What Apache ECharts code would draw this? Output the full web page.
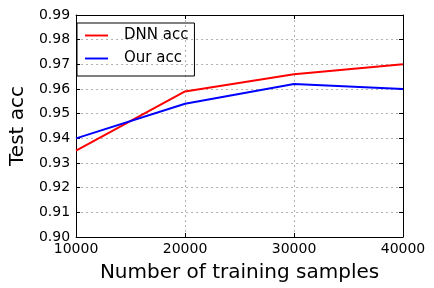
<!DOCTYPE html>
<html><head><meta charset="utf-8">
<script src="https://cdn.jsdelivr.net/npm/echarts@6/dist/echarts.min.js"></script>
<style>html,body{margin:0;padding:0;background:#fff}#c{width:434px;height:288px}</style>
</head><body><div id="c"></div>
<script>
const samples = [10000, 20000, 30000, 40000];
const dnnAcc = [0.935, 0.959, 0.966, 0.970];
const ourAcc = [0.940, 0.954, 0.962, 0.960];
const seriesNames = ['DNN acc', 'Our acc'];
const font = 'DejaVu Sans';
const chart = echarts.init(document.getElementById('c'), null, {renderer: 'canvas'});
const tickStyle = {show: true, inside: true, length: 4, lineStyle: {color: '#000', width: 1}};
chart.setOption({
  animation: false,
  backgroundColor: '#fff',
  grid: {left: 68, right: 31, top: 15, bottom: 50},
  legend: {
    orient: 'vertical', left: 77, top: 23,
    data: seriesNames,
    icon: 'path://M0,0L24,0L24,2L0,2Z',
    borderColor: '#000', borderWidth: 1, borderRadius: 0,
    padding: [4, 6, 9, 8], itemGap: 6,
    itemWidth: 23, itemHeight: 2,
    textStyle: {fontFamily: font, fontSize: 15, color: '#000', padding: [0, 0, 0, 11], lineHeight: 17}
  },
  xAxis: [{
    type: 'value', min: 10000, max: 40000, interval: 10000,
    name: 'Number of training samples', nameLocation: 'middle', nameGap: 26,
    nameTextStyle: {fontFamily: font, fontSize: 20, color: '#000'},
    axisLine: {show: true, lineStyle: {color: '#000', width: 1}},
    axisTick: tickStyle,
    axisLabel: {fontFamily: font, fontSize: 14, color: '#000', margin: 5, formatter: v => String(v)},
    splitLine: {show: true, lineStyle: {color: '#b0b0b0', type: [2, 3], width: 1}}
  }, {
    type: 'value', position: 'top', min: 10000, max: 40000, interval: 10000,
    axisLine: {show: true, lineStyle: {color: '#000', width: 1}},
    axisTick: tickStyle, axisLabel: {show: false}, splitLine: {show: false}
  }],
  yAxis: [{
    type: 'value', min: 0.90, max: 0.99, interval: 0.01,
    name: 'Test acc', nameLocation: 'middle', nameGap: 44,
    nameTextStyle: {fontFamily: font, fontSize: 20, color: '#000'},
    axisLine: {show: true, lineStyle: {color: '#000', width: 1}},
    axisTick: tickStyle,
    axisLabel: {fontFamily: font, fontSize: 14, color: '#000', margin: 6, formatter: v => v.toFixed(2)},
    splitLine: {show: true, lineStyle: {color: '#b0b0b0', type: [2, 3], width: 1}}
  }, {
    type: 'value', position: 'right', min: 0.90, max: 0.99, interval: 0.01,
    axisLine: {show: true, lineStyle: {color: '#000', width: 1}},
    axisTick: tickStyle, axisLabel: {show: false}, splitLine: {show: false}
  }],
  series: [{
    name: seriesNames[0], type: 'line', symbol: 'none', color: '#ff0000',
    lineStyle: {width: 2, color: '#ff0000'},
    data: samples.map((s, i) => [s, dnnAcc[i]])
  }, {
    name: seriesNames[1], type: 'line', symbol: 'none', color: '#0000ff',
    lineStyle: {width: 2, color: '#0000ff'},
    data: samples.map((s, i) => [s, ourAcc[i]])
  }]
});
</script></body></html>
